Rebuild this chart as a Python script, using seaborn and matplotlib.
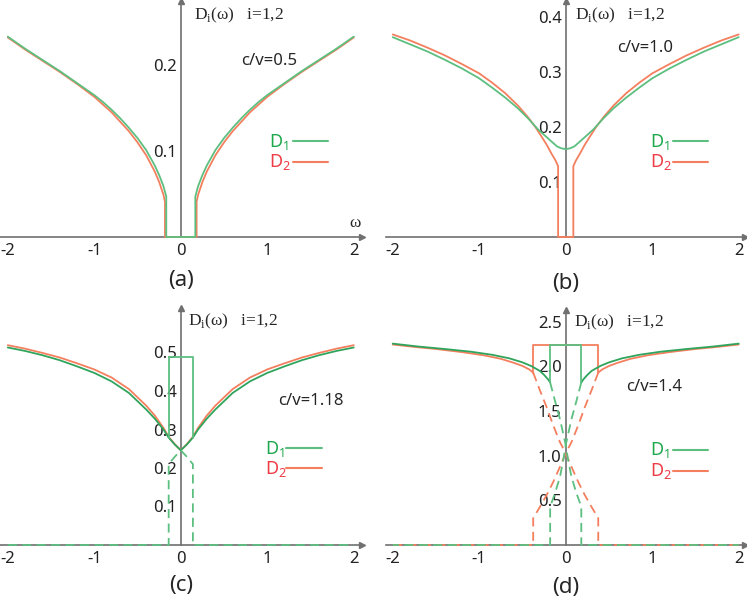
import numpy as np
import matplotlib
matplotlib.use("Agg")
import matplotlib.pyplot as plt
import seaborn as sns
from matplotlib.lines import Line2D
from matplotlib.ticker import MultipleLocator, FixedLocator, FuncFormatter

sns.set_style("white")
plt.rcParams["font.family"] = ["Noto Sans", "DejaVu Sans"]
plt.rcParams["mathtext.fontset"] = "custom"
plt.rcParams["mathtext.rm"] = "Liberation Serif"
plt.rcParams["mathtext.sf"] = "Noto Sans"

# ---- data (right halves, curves are symmetric in omega) ----
# (a) c/v = 0.5
w_a1 = [0.168, 0.2, 0.25, 0.3, 0.4, 0.5, 0.6, 0.7, 0.8, 0.9, 1.0, 1.2, 1.4, 1.6, 1.8, 2.0]
d_a1 = [0.047, 0.059, 0.072, 0.083, 0.101, 0.115, 0.127, 0.138, 0.148, 0.157, 0.165,
        0.179, 0.193, 0.206, 0.219, 0.233]
w_a2 = [0.183, 0.2, 0.25, 0.3, 0.4, 0.5, 0.6, 0.7, 0.8, 0.9, 1.0, 1.2, 1.4, 1.6, 1.8, 2.0]
d_a2 = [0.041, 0.049, 0.064, 0.076, 0.095, 0.110, 0.123, 0.134, 0.145, 0.154, 0.163,
        0.178, 0.192, 0.205, 0.218, 0.232]

# (b) c/v = 1.0
w_b1 = [0.0, 0.05, 0.1, 0.165, 0.25, 0.32, 0.435, 0.55, 0.7, 0.85, 1.0, 1.2, 1.4, 1.6, 1.8, 2.0]
d_b1 = [0.160, 0.1615, 0.165, 0.174, 0.186, 0.196, 0.216, 0.234, 0.254, 0.272, 0.289,
        0.307, 0.323, 0.338, 0.351, 0.364]
w_b2 = [0.088, 0.12, 0.165, 0.22, 0.28, 0.35, 0.435, 0.55, 0.7, 0.85, 1.0, 1.2, 1.4, 1.6, 1.8, 2.0]
d_b2 = [0.129, 0.140, 0.152, 0.168, 0.183, 0.200, 0.218, 0.239, 0.262, 0.281, 0.298,
        0.315, 0.331, 0.345, 0.358, 0.369]

# (c) c/v = 1.18
w_c = [0.0, 0.07, 0.14, 0.2, 0.3, 0.4, 0.6, 0.8, 1.0, 1.2, 1.4, 1.6, 1.8, 2.0]
d_c1 = [0.246, 0.261, 0.279, 0.300, 0.328, 0.352, 0.395, 0.425, 0.447, 0.464, 0.480, 0.493, 0.504, 0.513]
d_c2 = [0.246, 0.262, 0.281, 0.304, 0.336, 0.362, 0.405, 0.435, 0.456, 0.472, 0.487, 0.499, 0.510, 0.519]
w_c1_dash = [0.0, 0.07, 0.14, 0.14, 2.0]
d_c1_dash = [0.246, 0.229, 0.210, 0.0, 0.0]
c1_box = (0.14, 0.489, 0.279)

# (d) c/v = 1.4
w_d1 = [0.18, 0.2, 0.25, 0.3, 0.4, 0.5, 0.65, 0.85, 1.1, 1.4, 1.7, 2.0]
d_d1 = [1.82, 1.85, 1.905, 1.95, 2.005, 2.045, 2.09, 2.13, 2.165, 2.195, 2.222, 2.255]
w_d2 = [0.376, 0.42, 0.5, 0.6, 0.75, 0.95, 1.2, 1.5, 1.75, 2.0]
d_d2 = [1.93, 1.965, 2.005, 2.04, 2.085, 2.125, 2.16, 2.195, 2.218, 2.245]
d1_box = (0.18, 2.24, 1.82)
d2_box = (0.376, 2.24, 1.93)
# dashed branches, upper right -> lower left (the other one is its mirror)
w_d1_dash = [0.18, 0.127, 0.069, 0.03, 0.0, -0.028, -0.066, -0.124, -0.18, -0.18, -2.0]
d_d1_dash = [1.82, 1.624, 1.419, 1.251, 1.12, 0.952, 0.765, 0.579, 0.43, 0.0, 0.0]
w_d2_dash = [0.376, 0.30, 0.223, 0.146, 0.069, 0.0, -0.066, -0.143, -0.22, -0.297, -0.376, -0.376, -2.0]
d_d2_dash = [1.93, 1.736, 1.549, 1.344, 1.157, 1.027, 0.877, 0.709, 0.56, 0.429, 0.30, 0.0, 0.0]

GREEN = "#5cbf80"
GREEN_DK = "#2fa45c"
RED = "#f47f5e"
AXC = "#707070"


def gap_curve(w, d):
    w = np.array(w); d = np.array(d)
    x = np.concatenate([-w[::-1], [-w[0], w[0]], w])
    y = np.concatenate([d[::-1], [0, 0], d])
    return x, y


def sym_curve(w, d):
    w = np.array(w); d = np.array(d)
    return np.concatenate([-w[::-1][:-1], w]), np.concatenate([d[::-1][:-1], d])


def box(w0, top, bot):
    return [-w0, -w0, w0, w0], [bot, top, top, bot]


def line(ax, x, y, color, dashed=False, lw=1.3, z=3):
    sns.lineplot(x=np.asarray(x, float), y=np.asarray(y, float), ax=ax, color=color,
                 lw=lw, estimator=None, sort=False, legend=False,
                 linestyle=(0, (5, 3)) if dashed else "-", clip_on=False, zorder=z)


fig = plt.figure(figsize=(7.47, 6), dpi=100)
W, H = 747.0, 600.0


def make_ax(left_px, bottom_px, xlim, ylim, yscale_px, yticks, ymin):
    width = (xlim[1] - xlim[0]) * 86.5
    height = (ylim[1] - ylim[0]) * yscale_px
    ax = fig.add_axes([left_px / W, 1 - bottom_px / H, width / W, height / H])
    ax.set_xlim(*xlim)
    ax.set_ylim(*ylim)
    for s in ["top", "right"]:
        ax.spines[s].set_visible(False)
    ax.spines["left"].set_position(("data", 0))
    for s in ["left", "bottom"]:
        ax.spines[s].set_color(AXC)
        ax.spines[s].set_linewidth(1.2)
    ax.xaxis.set_major_locator(MultipleLocator(1))
    ax.xaxis.set_minor_locator(MultipleLocator(0.2))
    ax.yaxis.set_major_locator(FixedLocator(yticks))
    ax.yaxis.set_minor_locator(MultipleLocator(ymin))
    ax.xaxis.set_major_formatter(FuncFormatter(lambda v, p: f"{v:.0f}"))
    ax.yaxis.set_major_formatter(FuncFormatter(lambda v, p: f"{v:.1f}"))
    ax.tick_params(which="both", direction="in", color=AXC, width=0.8, labelsize=12,
                   labelcolor="#222222")
    ax.tick_params(which="major", length=5)
    ax.tick_params(which="minor", length=3)
    ax.tick_params(axis="x", pad=4)
    ax.tick_params(axis="y", pad=3)
    ax.plot(1, 0, marker=">", ms=5, color=AXC, transform=ax.get_yaxis_transform(), clip_on=False)
    ax.plot(0, 1, marker="^", ms=5, color=AXC, transform=ax.get_xaxis_transform(), clip_on=False)
    ax.set_xlabel("")
    ax.set_ylabel("")
    ax.patch.set_alpha(0)
    return ax


def ftext(x, y, s, **kw):
    fig.text(x / W, 1 - y / H, s, **kw)


def legend(xt, xl0, xl1, y1, y2):
    ftext(xt, y1 + 5.5, r"D$_\mathsf{1}$", color="#1da84d", fontsize=13, va="baseline")
    ftext(xt, y2 + 5.5, r"D$_\mathsf{2}$", color="#ee3b45", fontsize=13, va="baseline")
    fig.add_artist(Line2D([xl0 / W, xl1 / W], [1 - y1 / H, 1 - y1 / H], color=GREEN, lw=1.5))
    fig.add_artist(Line2D([xl0 / W, xl1 / W], [1 - y2 / H, 1 - y2 / H], color=RED, lw=1.5))


dlab = "D$_\\mathrm{i}$(\u03c9)   i=1,2"
serif = ["Liberation Serif", "DejaVu Serif"]

# (a)
ax = make_ax(0, 237, (-2.09, 2.09), (0, 0.274), 860, [0.1, 0.2], 0.02)
line(ax, *gap_curve(w_a2, d_a2), RED)
line(ax, *gap_curve(w_a1, d_a1), GREEN)
ftext(194, 15, dlab, family=serif, fontsize=12.5, va="center")
ftext(241, 61, "c/v=0.5", fontsize=12, va="center")
ftext(355, 223, "\u03c9", family=serif, fontsize=12.5, va="center", ha="center")
legend(269, 293, 328, 141.3, 161.7)
ftext(181, 281, "(a)", fontsize=16, ha="center", va="center")

# (b)
ax = make_ax(385.8, 237, (-2.08, 2.07), (0, 0.43), 549, [0.1, 0.2, 0.3, 0.4], 0.02)
line(ax, *gap_curve(w_b2, d_b2), RED)
line(ax, *sym_curve(w_b1, d_b1), GREEN)
ftext(575, 15, dlab, family=serif, fontsize=12.5, va="center")
ftext(617, 48, "c/v=1.0", fontsize=12, va="center")
legend(650, 673, 708, 141.3, 161.7)
ftext(565.7, 283, "(b)", fontsize=16, ha="center", va="center")

# (c)
ax = make_ax(0, 545, (-2.09, 2.09), (0, 0.615), 385, [0.1, 0.2, 0.3, 0.4, 0.5], 0.02)
line(ax, *sym_curve(w_c, d_c2), RED)
line(ax, *sym_curve(w_c, d_c1), GREEN_DK)
line(ax, *box(*c1_box), GREEN)
line(ax, *sym_curve(w_c1_dash, d_c1_dash), GREEN, dashed=True)
ftext(188, 321, dlab, family=serif, fontsize=12.5, va="center")
ftext(278, 401, "c/v=1.18", fontsize=12, va="center")
legend(265, 286, 322, 448.3, 468.3)
ftext(181, 585, "(c)", fontsize=16, ha="center", va="center")

# (d)
ax = make_ax(385.8, 545, (-2.08, 2.07), (0, 2.63), 89.3, [0.5, 1.0, 1.5, 2.0, 2.5], 0.1)
for sgn in (1, -1):
    line(ax, sgn * np.array(w_d2), d_d2, RED)
    line(ax, sgn * np.array(w_d2_dash), d_d2_dash, RED, dashed=True)
line(ax, *box(*d2_box), RED)
for sgn in (1, -1):
    line(ax, sgn * np.array(w_d1), d_d1, GREEN_DK)
    line(ax, sgn * np.array(w_d1_dash), d_d1_dash, GREEN, dashed=True)
line(ax, *box(*d1_box), GREEN)
ftext(574, 322, dlab, family=serif, fontsize=12.5, va="center")
ftext(626, 387, "c/v=1.4", fontsize=12, va="center")
legend(650, 673, 708, 450, 470.7)
ftext(565.7, 587, "(d)", fontsize=16, ha="center", va="center")

fig.savefig("out.png", dpi=100)
